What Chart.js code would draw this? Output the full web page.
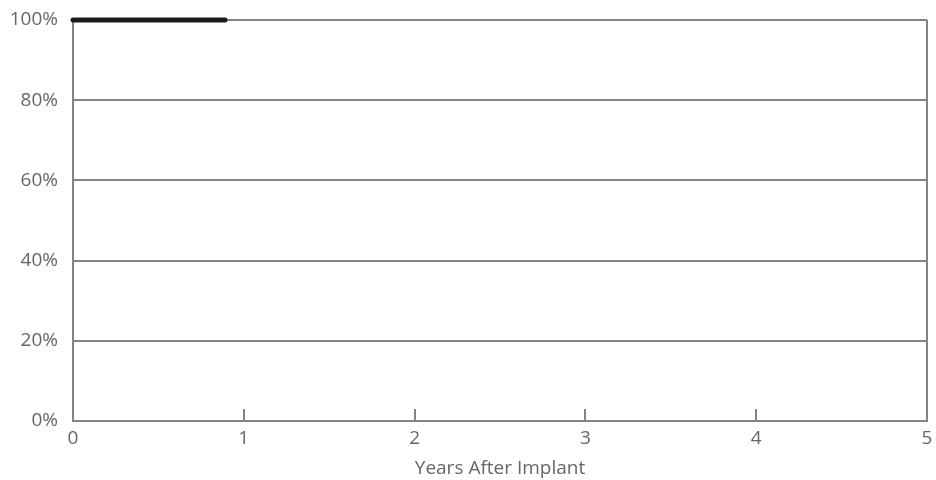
<!DOCTYPE html>
<html lang="en">
<head>
    <meta charset="UTF-8">
    <title>Years After Implant</title>
    <script src="https://cdn.jsdelivr.net/npm/chart.js@4/dist/chart.umd.min.js"></script>
    <style>
        body { margin: 0; background: #fff; }
        #wrap { width: 936px; height: 480px; }
    </style>
</head>
<body>
 <div id="wrap"><canvas id="myChart"></canvas></div>
 <script>
    // survival curve points (years, percent)
    const years = [0, 0.15, 0.3, 0.45, 0.6, 0.75, 0.89];
    const survival = [100, 100, 100, 100, 100, 100, 100];
    const xTicks = [0, 1, 2, 3, 4, 5];
    const yTicks = [0, 20, 40, 60, 80, 100];

    const gray = '#838383';
    const textGray = '#666666';

    // short tick marks pointing up into the plot from the x axis
    const innerTicks = {
      id: 'innerTicks',
      afterDatasetsDraw(chart) {
        const ctx = chart.ctx;
        const x = chart.scales.x;
        const bottom = chart.chartArea.bottom;
        ctx.save();
        ctx.strokeStyle = gray;
        ctx.lineWidth = 2;
        xTicks.slice(1, -1).forEach(v => {
          const px = Math.round(x.getPixelForValue(v));
          ctx.beginPath();
          ctx.moveTo(px, bottom);
          ctx.lineTo(px, bottom - 12);
          ctx.stroke();
        });
        ctx.restore();
      }
    };

    const ctx = document.getElementById('myChart').getContext('2d');
    const myChart = new Chart(ctx, {
      type: 'line',
      data: {
        datasets: [{
          data: years.map((y, i) => ({x: y, y: survival[i]})),
          borderColor: '#1c1c1c',
          borderWidth: 5,
          borderCapStyle: 'round',
          pointRadius: 0,
          stepped: true,
          fill: false,
          clip: false
        }]
      },
      options: {
        responsive: true,
        maintainAspectRatio: false,
        animation: false,
        layout: { padding: { left: 0, right: 9, top: 20, bottom: 0 } },
        plugins: { legend: { display: false }, tooltip: { enabled: false } },
        scales: {
          x: {
            type: 'linear',
            min: 0,
            max: 5,
            afterBuildTicks: axis => { axis.ticks = xTicks.map(v => ({value: v})); },
            afterFit: axis => {
              axis.height = 59;
              axis.paddingLeft = 0;
              axis.paddingRight = 0;
            },
            grid: {
              drawTicks: false,
              lineWidth: 2,
              color: c => (c.tick && (c.tick.value === 0 || c.tick.value === 5)) ? gray : 'rgba(0,0,0,0)'
            },
            border: { display: true, color: gray, width: 2 },
            ticks: {
              color: textGray,
              padding: 6,
              font: { family: 'Open Sans', size: 19 }
            },
            title: {
              display: true,
              text: 'Years After Implant',
              color: textGray,
              padding: { top: 0, bottom: 0 },
              font: { family: 'Open Sans', size: 19 }
            }
          },
          y: {
            min: 0,
            max: 100,
            afterBuildTicks: axis => { axis.ticks = yTicks.map(v => ({value: v})); },
            afterFit: axis => {
              axis.width = 73;
              axis.paddingTop = 0;
              axis.paddingBottom = 0;
            },
            grid: { drawTicks: false, lineWidth: 2, color: gray },
            border: { display: true, color: gray, width: 2 },
            ticks: {
              color: textGray,
              padding: 15,
              font: { family: 'Open Sans', size: 19 },
              callback: v => v + '%'
            }
          }
        }
      },
      plugins: [innerTicks]
    });
 </script>
</body>
</html>
